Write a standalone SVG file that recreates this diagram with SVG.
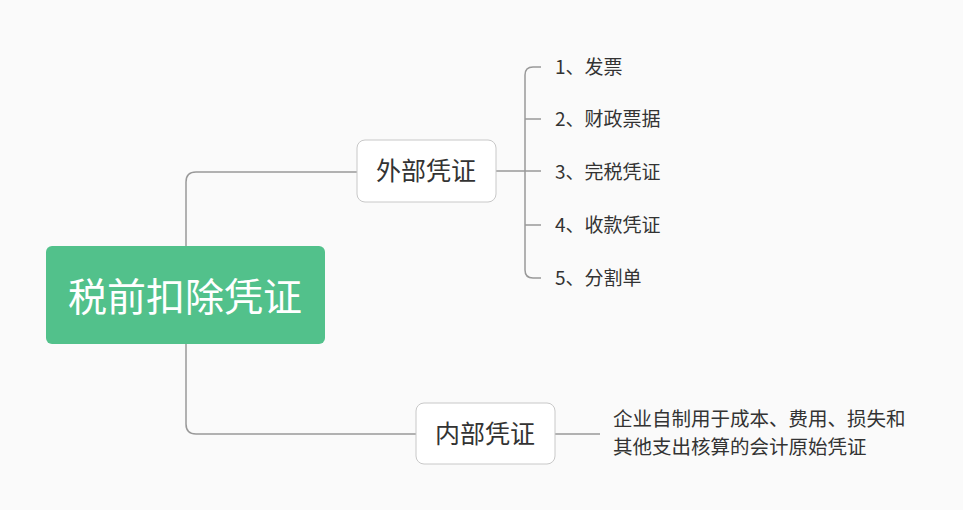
<svg xmlns="http://www.w3.org/2000/svg" width="963" height="510" viewBox="0 0 963 510">
<style>
text{font-family:"Noto Sans CJK SC","Noto Sans",sans-serif;fill:#333}
.c{fill:none;stroke:#999;stroke-width:1.5}
.box{fill:#fff;stroke:#c8c8c8;stroke-width:1}
.leaf{font-size:19px}
</style>
<rect width="963" height="510" fill="#fafafa"/>
<g id="connectors">
<path class="c" d="M186 246 V182 Q186 172 196 172 H357"/>
<path class="c" d="M186 344 V424 Q186 434 196 434 H416"/>
<path class="c" d="M496 171 H541"/>
<path class="c" d="M541 67 H533 Q525 67 525 75 V270 Q525 278 533 278 H541"/>
<path class="c" d="M525 119 H541 M525 225 H541"/>
<path class="c" d="M555 434 H600"/>
</g>
<g id="root">
<rect x="46" y="246" width="279" height="98" rx="6" fill="#52c18b"/>
<text x="185" y="311" font-size="39" text-anchor="middle" style="fill:#fff">税前扣除凭证</text>
</g>
<g id="external">
<rect class="box" x="357" y="140" width="139" height="62" rx="8"/>
<text x="426" y="180" font-size="25" text-anchor="middle">外部凭证</text>
</g>
<g id="internal">
<rect class="box" x="416" y="403" width="139" height="61" rx="8"/>
<text x="485" y="443" font-size="25" text-anchor="middle">内部凭证</text>
</g>
<g id="leaf1"><text class="leaf" x="555" y="74">1、发票</text></g>
<g id="leaf2"><text class="leaf" x="555" y="126">2、财政票据</text></g>
<g id="leaf3"><text class="leaf" x="555" y="179">3、完税凭证</text></g>
<g id="leaf4"><text class="leaf" x="555" y="232">4、收款凭证</text></g>
<g id="leaf5"><text class="leaf" x="555" y="285">5、分割单</text></g>
<g id="desc">
<text x="613" y="426" font-size="19.5">企业自制用于成本、费用、损失和</text>
<text x="613" y="454" font-size="19.5">其他支出核算的会计原始凭证</text>
</g>
</svg>
